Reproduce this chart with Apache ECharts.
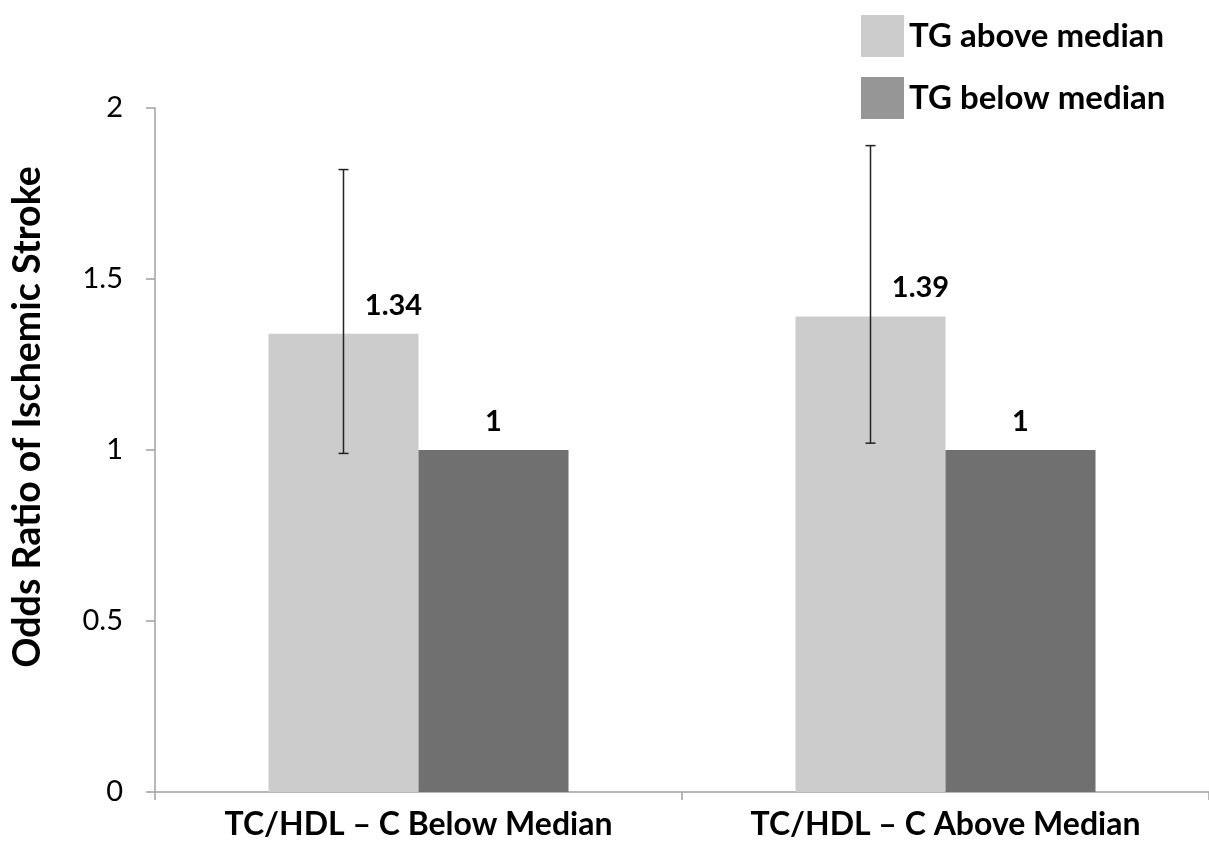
<!DOCTYPE html>
<html>
<head>
<meta charset="utf-8">
<script src="https://cdn.jsdelivr.net/npm/echarts@6/dist/echarts.min.js"></script>
<style>html,body{margin:0;padding:0;background:#fff;}#c{width:1209px;height:846px;}</style>
</head>
<body>
<div id="c"></div>
<script>
const categories = ['TC/HDL \u2013 C Below Median', 'TC/HDL \u2013 C Above Median'];
const seriesNames = ['TG above median', 'TG below median'];
const tgAbove = [1.34, 1.39];
const tgBelow = [1, 1];
const ciLow = [0.99, 1.02];
const ciHigh = [1.82, 1.89];
const yTicks = [0, 0.5, 1, 1.5, 2];
const yTitle = 'Odds Ratio of Ischemic Stroke';

const FONT = 'Lato';
const chart = echarts.init(document.getElementById('c'), null, {renderer: 'canvas'});
const errData = categories.map((c, i) => [i, ciLow[i], ciHigh[i]]);

chart.setOption({
  animation: false,
  backgroundColor: '#ffffff',
  textStyle: {fontFamily: FONT},
  grid: {left: 155, top: 108, width: 1054, height: 684, containLabel: false},
  legend: {
    orient: 'vertical', left: 856, top: 10,
    itemWidth: 43, itemHeight: 42, itemGap: 20,
    icon: 'rect',
    textStyle: {fontFamily: FONT, fontWeight: 'bold', fontSize: 33, color: '#000'},
    data: [
      {name: seriesNames[0], itemStyle: {color: '#cccccc'}},
      {name: seriesNames[1], itemStyle: {color: '#969696'}}
    ]
  },
  graphic: [{
    type: 'text', x: 28, y: 417, rotation: Math.PI / 2,
    style: {text: yTitle, fontFamily: FONT, fontWeight: 'bold', fontSize: 37.5, fill: '#000',
            align: 'center', verticalAlign: 'middle'}
  }],
  xAxis: {
    type: 'category', data: categories,
    axisLine: {lineStyle: {color: '#a0a0a0', width: 1.5}},
    axisTick: {show: true, length: 8, lineStyle: {color: '#a0a0a0', width: 1.5}},
    axisLabel: {fontFamily: FONT, fontWeight: 'bold', fontSize: 32, color: '#000', margin: 17}
  },
  yAxis: {
    type: 'value', min: 0, max: 2, interval: 0.5,
    splitLine: {show: false},
    axisLine: {show: true, lineStyle: {color: '#a0a0a0', width: 1.5}},
    axisTick: {show: true, length: 9, lineStyle: {color: '#a0a0a0', width: 1.5}},
    axisLabel: {fontFamily: FONT, fontSize: 29, color: '#000', margin: 32,
                formatter: v => yTicks.includes(v) ? String(v) : ''}
  },
  series: [
    {
      name: seriesNames[0], type: 'bar', data: tgAbove, barWidth: 150, barGap: '0%',
      itemStyle: {color: '#cccccc'},
      label: {show: true, position: 'top', distance: 14, offset: [50, 0],
              fontFamily: FONT, fontWeight: 'bold', fontSize: 29, color: '#000'}
    },
    {
      name: seriesNames[1], type: 'bar', data: tgBelow, barWidth: 150, barGap: '0%',
      itemStyle: {color: '#707070'},
      label: {show: true, position: 'top', distance: 14,
              fontFamily: FONT, fontWeight: 'bold', fontSize: 29, color: '#000'}
    },
    {
      type: 'custom', name: 'ci', data: errData, z: 10,
      encode: {x: 0, y: [1, 2]},
      renderItem: function (params, api) {
        const i = api.value(0);
        const lo = api.coord([i, api.value(1)]);
        const hi = api.coord([i, api.value(2)]);
        const x = lo[0] - 75;
        const cap = 5;
        const st = {stroke: '#222', lineWidth: 1.5};
        return {type: 'group', children: [
          {type: 'line', shape: {x1: x, y1: lo[1], x2: x, y2: hi[1]}, style: st},
          {type: 'line', shape: {x1: x - cap, y1: lo[1], x2: x + cap, y2: lo[1]}, style: st},
          {type: 'line', shape: {x1: x - cap, y1: hi[1], x2: x + cap, y2: hi[1]}, style: st}
        ]};
      }
    }
  ]
});
</script>
</body>
</html>
